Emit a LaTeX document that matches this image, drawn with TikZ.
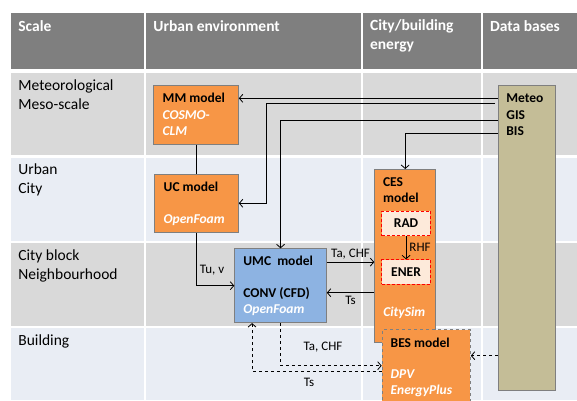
\documentclass[tikz,border=0pt]{standalone}
\usepackage{fontspec}
\setmainfont{Carlito}
\usetikzlibrary{positioning, arrows.meta}

\definecolor{headgray}{HTML}{7F7F7F}
\definecolor{rowgray}{HTML}{D9D9D9}
\definecolor{rowblue}{HTML}{E9EDF4}
\definecolor{modelorange}{HTML}{F79646}
\definecolor{modelblue}{HTML}{8DB3E2}
\definecolor{basetan}{HTML}{C4BD97}
\definecolor{subfill}{HTML}{FDEADA}
\definecolor{edgegray}{HTML}{7F7F7F}

\tikzset{
	head/.style = {anchor = west, inner sep = 0pt, align = left, text = white, font = \bfseries\fontsize{15.5}{19}\selectfont},
	scalelbl/.style = {anchor = west, inner sep = 0pt, align = left, font = \fontsize{15.5}{19}\selectfont},
	modelbox/.style = {draw = edgegray, fill = modelorange, anchor = north west, inner sep = 0pt},
	subbox/.style = {draw = red, densely dashed, fill = subfill, anchor = north west, inner sep = 0pt, minimum width = 48.7, minimum height = 24.4, font = \bfseries\fontsize{13.5}{16.5}\selectfont},
	title/.style = {anchor = west, inner sep = 0pt, align = left, font = \bfseries\fontsize{13.5}{16.5}\selectfont},
	tool/.style = {title, text = white, font = \bfseries\itshape\fontsize{13.5}{16.5}\selectfont},
	lbl/.style = {font = \fontsize{13}{15}\selectfont, inner sep = 3pt}
}

\begin{document}
\begin{tikzpicture}[> = {Straight Barb[length = 3.5pt, width = 8pt]}, x = 1pt, y = -1pt, line width = 0.8pt]

	\clip (0, 0) rectangle (577, 400);
	\fill [white] (0, 0) rectangle (577, 400);

	% Table

	\foreach \xa/\xb in {11/144, 146/361, 363/481, 483/577}
		\fill [headgray] (\xa, 13) rectangle (\xb, 69);
	\foreach \ya/\yb/\c in {72.7/155.3/rowgray, 157.7/241/rowblue, 243.3/325.7/rowgray, 327.7/400/rowblue}
		\foreach \xa/\xb in {11/144, 146/361, 363/481, 483/577}
			\fill [\c] (\xa, \ya) rectangle (\xb, \yb);

	\node [head] (hscale) at (18, 26) {Scale};
	\node [head] (hurban) at (153, 26) {Urban environment};
	\node [head] (henergy) at (369.7, 35.5) {City/building\\energy};
	\node [head] (hbases) at (489.7, 26) {Data bases};

	\node [scalelbl] (rmeso) at (18, 94.5) {Meteorological\\Meso-scale};
	\node [scalelbl] (rcity) at (18, 180.3) {Urban\\City};
	\node [scalelbl] (rblock) at (18, 265.7) {City block\\Neighbourhood};
	\node [scalelbl] (rbuild) at (18, 341.3) {Building};

	% Models

	\node [modelbox, minimum width = 85, minimum height = 58.7] (mm) at (153, 85) {};
	\node [title] (mmname) at (162.3, 98) {MM model};
	\node [tool] (mmtool) at (162.3, 123) {COSMO-\\CLM};

	\node [modelbox, minimum width = 84, minimum height = 57.7] (uc) at (154, 174) {};
	\node [title] (ucname) at (163.3, 186.7) {UC model};
	\node [tool] (uctool) at (163.3, 220) {OpenFoam};

	\node [modelbox, fill = modelblue, minimum width = 91.7, minimum height = 74] (umc) at (234.3, 248.3) {};
	\node [title] (umcname) at (243, 261) {UMC\ \ model};
	\node [title] (umcconv) at (243, 294) {CONV (CFD)};
	\node [tool] (umctool) at (243, 310) {OpenFoam};

	\node [modelbox, minimum width = 61, minimum height = 173.3] (ces) at (374.3, 169) {};
	\node [title] (cesname) at (382.7, 190) {CES\\model};
	\node [subbox] (rad) at (381.3, 210.7) {RAD};
	\node [subbox] (ener) at (381.3, 259.3) {ENER};
	\node [tool] (cestool) at (383, 312.7) {CitySim};

	\node [modelbox, dashed, minimum width = 88.3, minimum height = 80] (bes) at (381.7, 329.3) {};
	\node [title] (besname) at (390.3, 342.7) {BES model};
	\node [tool] (bestool) at (390.3, 383) {DPV\\EnergyPlus};

	% Data bases

	\node [modelbox, fill = basetan, minimum width = 57, minimum height = 305] (db) at (498, 85.3) {};
	\node [title] (dbname) at (506, 115) {Meteo\\GIS\\BIS};

	\coordinate (linkmm) at (498, 98.3);
	\coordinate (linkuc) at (495, 103.3);
	\coordinate (linkumc) at (498, 120.7);
	\coordinate (linkces) at (498, 133);
	\coordinate (linkbes) at (498, 355.7);

	% Links

	\draw [->] (linkmm) -- (linkmm -| mm.east);
	\draw [->] (linkuc) -- ++(-229, 0) |- (uc.east);
	\draw [->] (linkumc) -| (umc.north);
	\draw [->] (linkces) -| (ces.north);

	\draw (mm.south) -- (mm.south |- uc.north);
	\draw [->] (uc.south) |- node [lbl, pos = 0.35, right] {Tu, v} (umc.west);

	\draw [->] ([yshift = 23.6pt] umc.east) -- node [lbl, above] {Ta, CHF} ([yshift = 23.6pt] umc.east -| ces.west);
	\draw [->] ([yshift = -7pt] umc.east -| ces.west) -- node [lbl, below] {Ts} ([yshift = -7pt] umc.east);
	\draw [->] (rad) -- node [lbl, right] {RHF} (ener);

	\draw [dashed, ->] (linkbes) -- (linkbes -| bes.east);
	\draw [dashed, ->] (umc.south) |- node [lbl, pos = 0.71, above = 10pt] {Ta, CHF} ([yshift = 4pt] bes.west);
	\draw [dashed, ->] ([yshift = -1.7pt] bes.west) -| node [lbl, pos = 0.28, below = 3pt] {Ts} ([xshift = -28.5pt] umc.south);

\end{tikzpicture}
\end{document}
